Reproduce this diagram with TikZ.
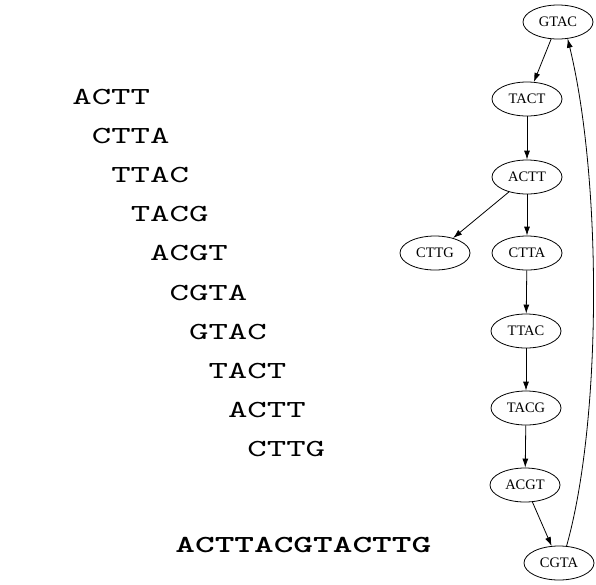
\documentclass[tikz,border=0pt]{standalone}
\usepackage{fontspec}
\usepackage{tikz}
\usetikzlibrary{shapes.geometric,arrows.meta}
\newfontfamily\nodefont{Liberation Serif}
\newfontfamily\readfont{lmmono10-regular.otf}[FakeStretch=1.51]
\newfontfamily\resultfont{lmmonolt10-bold.otf}[FakeStretch=1.53]

\begin{document}
\begin{tikzpicture}[x=1pt, y=-1pt, line width=0.8pt, >={Latex[length=9pt,width=6pt]},
        kmer/.style={ellipse, draw, minimum width=70pt, minimum height=34pt, inner sep=0pt,
            font=\nodefont\fontsize{14.5}{14.5}\selectfont},
        readline/.style={anchor=base west, inner sep=0pt, font=\readfont\fontsize{24.5}{24.5}\selectfont}]
        \useasboundingbox (0, 0) rectangle (596, 584);

        \node[readline] (read0) at (72, 104) {ACTT};
        \node[readline] (read1) at (91.45, 143.2) {CTTA};
        \node[readline] (read2) at (110.9, 182.4) {TTAC};
        \node[readline] (read3) at (130.35, 221.6) {TACG};
        \node[readline] (read4) at (149.8, 260.8) {ACGT};
        \node[readline] (read5) at (169.25, 300) {CGTA};
        \node[readline] (read6) at (188.7, 339.2) {GTAC};
        \node[readline] (read7) at (208.15, 378.4) {TACT};
        \node[readline] (read8) at (227.6, 417.6) {ACTT};
        \node[readline] (read9) at (247.05, 456.8) {CTTG};

        \node[readline, font=\resultfont\fontsize{24.5}{24.5}\selectfont] (assembly) at (175, 552) {ACTTACGTACTTG};

        \node[kmer] (gtac) at (558, 22) {GTAC};
        \node[kmer] (tact) at (527, 99) {TACT};
        \node[kmer] (actt) at (527, 177) {ACTT};
        \node[kmer] (cttg) at (435, 253) {CTTG};
        \node[kmer] (ctta) at (527, 253) {CTTA};
        \node[kmer] (ttac) at (526, 331) {TTAC};
        \node[kmer] (tacg) at (526, 408) {TACG};
        \node[kmer] (acgt) at (525, 485) {ACGT};
        \node[kmer] (cgta) at (559, 563) {CGTA};

        \draw[->] (gtac) -- (tact);
        \draw[->] (tact) -- (actt);
        \draw[->] (actt) -- (cttg);
        \draw[->] (actt) -- (ctta);
        \draw[->] (ctta) -- (ttac);
        \draw[->] (ttac) -- (tacg);
        \draw[->] (tacg) -- (acgt);
        \draw[->] (acgt) -- (cgta);
        \draw[->] (cgta.66) .. controls (602, 420) and (602, 180) .. (gtac.-60);
    \end{tikzpicture}
\end{document}
